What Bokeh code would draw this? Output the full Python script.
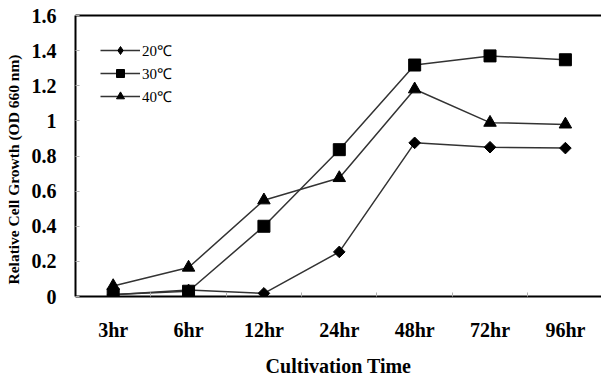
import math
from bokeh.plotting import figure
from bokeh.models import (Range1d, FixedTicker, LinearAxis, Legend, LegendItem,
                          CustomJSTickFormatter, Title)
from bokeh.embed import file_html
from bokeh.resources import INLINE

categories = ["3hr", "6hr", "12hr", "24hr", "48hr", "72hr", "96hr"]
series_names = ["20℃", "30℃", "40℃"]
t20 = [0.01, 0.037, 0.018, 0.254, 0.875, 0.85, 0.845]
t30 = [0.012, 0.03, 0.40, 0.836, 1.318, 1.37, 1.348]
t40 = [0.06, 0.165, 0.548, 0.675, 1.18, 0.99, 0.98]
y_ticks = [0, 0.2, 0.4, 0.6, 0.8, 1.0, 1.2, 1.4, 1.6]

x = list(range(len(categories)))
FONT = "Liberation Serif"

p = figure(width=601, height=379, output_backend="svg", toolbar_location=None,
           x_range=Range1d(-0.5, 6.479), y_range=Range1d(0, 1.6),
           min_border_left=72, min_border_right=0, min_border_top=15,
           min_border_bottom=82)
p.outline_line_color = None
p.xgrid.visible = False
p.ygrid.visible = False
p.background_fill_color = "white"
p.border_fill_color = "white"

# x axis
xa = p.xaxis[0]
xa.ticker = FixedTicker(ticks=x, minor_ticks=[i + 0.5 for i in x])
xa.major_label_overrides = {i: c for i, c in zip(x, categories)}
xa.major_tick_line_color = None
xa.minor_tick_in = 4
xa.minor_tick_out = 0
xa.minor_tick_line_color = "#b0b0b0"
xa.axis_line_width = 2
xa.axis_line_color = "black"
xa.major_label_text_font = FONT
xa.major_label_text_font_style = "bold"
xa.major_label_text_font_size = "20px"
xa.major_label_text_color = "black"
xa.major_label_standoff = 16
xa.axis_label = "Cultivation Time"
xa.axis_label_text_font = FONT
xa.axis_label_text_font_style = "bold"
xa.axis_label_text_font_size = "20px"
xa.axis_label_text_color = "black"
xa.axis_label_standoff = 11

# y axis
ya = p.yaxis[0]
ya.ticker = FixedTicker(ticks=y_ticks)
ya.formatter = CustomJSTickFormatter(code="return String(tick)")
ya.major_tick_in = 4
ya.major_tick_out = 0
ya.major_tick_line_color = "#b0b0b0"
ya.minor_tick_line_color = None
ya.axis_line_width = 2
ya.axis_line_color = "black"
ya.major_label_text_font = FONT
ya.major_label_text_font_style = "bold"
ya.major_label_text_font_size = "20px"
ya.major_label_text_color = "black"
ya.major_label_standoff = 19

ytitle = Title(text="Relative Cell Growth (OD 660 nm)", align="left", offset=12,
               vertical_align="top", standoff=9, text_font=FONT,
               text_font_style="bold", text_font_size="15.5px", text_color="black")
p.add_layout(ytitle, "left")

# top border line
top = LinearAxis(ticker=FixedTicker(ticks=[]), axis_line_width=2, axis_line_color="black",
                 major_tick_line_color=None, minor_tick_line_color=None,
                 major_label_text_font_size="0px")
p.add_layout(top, "above")

LINE = "#333333"
plot_markers = [("square", 8.2, math.pi / 4), ("square", 12, 0), ("triangle", 12.5, 0)]
legend_markers = [("diamond", 12), ("square", 11), ("triangle", 12)]
nan = float("nan")
items = []
for name, vals, (mk, size, ang), (lmk, lsize) in zip(
        series_names, [t20, t30, t40], plot_markers, legend_markers):
    lr = p.line(x, vals, line_color=LINE, line_width=1.5)
    p.scatter(x, vals, marker=mk, size=size, angle=ang, fill_color="black",
              line_color="black")
    # legend-only marker (not drawn in the plot area)
    lm = p.scatter([nan], [nan], marker=lmk, size=lsize, fill_color="black",
                   line_color="black")
    items.append(LegendItem(label=name, renderers=[lr, lm]))

legend = Legend(items=items, location="top_left", margin=25, padding=0,
                spacing=3, glyph_width=40, glyph_height=20, label_height=20,
                label_standoff=2, label_text_font=FONT, label_text_font_size="15px",
                label_text_color="black", background_fill_alpha=0,
                border_line_color=None)
p.add_layout(legend)

open("out.html", "w").write(file_html(p, INLINE))
